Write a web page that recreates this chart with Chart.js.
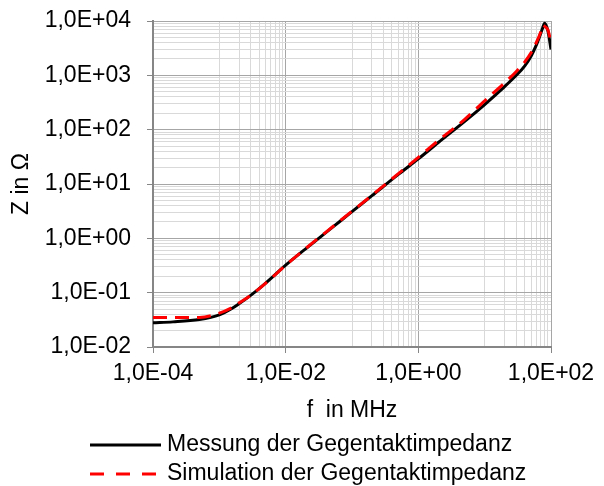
<!DOCTYPE html>
<html>
<head>
<meta charset="utf-8">
<title>Gegentaktimpedanz</title>
<script src="https://cdn.jsdelivr.net/npm/chart.js@4.4.0/dist/chart.umd.min.js"></script>
<style>
  html, body { margin: 0; padding: 0; background: #ffffff; }
  #wrap { width: 604px; height: 486px; }
</style>
</head>
<body>
<div id="wrap"><canvas id="zChart" width="604" height="486"></canvas></div>
<script>
// ---------- data (f in MHz, Z in Ohm) ----------
const freq = [0.0001, 0.0002, 0.0005, 0.001, 0.0015, 0.002, 0.003, 0.005, 0.01, 0.02,
              0.05, 0.1, 0.2, 0.5, 1, 2, 5, 10, 20, 30, 40, 50, 60, 70, 75, 80, 90, 100];
const zMessung = [0.028, 0.029, 0.032, 0.039, 0.050, 0.063, 0.090, 0.15, 0.32, 0.64,
                  1.57, 3.1, 6.1, 15, 29, 58, 142, 290, 620, 1000, 1480, 2250, 3600, 5900, 7500, 9100, 6500, 3000];
const zSimulation = [0.035, 0.035, 0.035, 0.042, 0.052, 0.065, 0.090, 0.15, 0.32, 0.65,
                     1.6, 3.15, 6.2, 15.5, 31, 63, 155, 340, 730, 1180, 1750, 2600, 4000, 6300, 8500, 8000, 6800, 4000];

// axis ticks
const xMajor = [1e-4, 1e-2, 1e0, 1e2];
const yMajor = [1e-2, 1e-1, 1e0, 1e1, 1e2, 1e3, 1e4];

const FONT = "'Liberation Sans', Arial, sans-serif";

// "1,0E+04" style like Excel (German)
function sci(v) {
  const e = Math.round(Math.log10(v));
  return '1,0E' + (e < 0 ? '-' : '+') + String(Math.abs(e)).padStart(2, '0');
}

// x grid: major every 2 decades, minor lines 1..9 x 10^(odd)
function xTickList() {
  const list = xMajor.map(v => ({ value: v, major: true }));
  for (let e = -3; e <= 1; e += 2) {
    for (let k = 1; k <= 9; k++) list.push({ value: k * Math.pow(10, e), major: false });
  }
  return list.sort((a, b) => a.value - b.value);
}

// y grid: major every decade, minor 2..9
function yTickList() {
  const list = yMajor.map(v => ({ value: v, major: true }));
  for (let e = -2; e <= 3; e++) {
    for (let k = 2; k <= 9; k++) list.push({ value: k * Math.pow(10, e), major: false });
  }
  return list.sort((a, b) => a.value - b.value);
}

const gridColor = ctx => (ctx.tick && ctx.tick.major) ? '#a6a6a6' : '#d9d9d9';
const tickMarkColor = ctx => (ctx.tick && ctx.tick.major) ? '#868686' : 'rgba(0,0,0,0)';

// legend below the axis title, entries left aligned like in Excel
const legendBelow = {
  id: 'legendBelow',
  afterDraw(chart) {
    const ctx = chart.ctx;
    const rows = [445, 474];
    ctx.save();
    chart.data.datasets.forEach((ds, i) => {
      const y = rows[i];
      ctx.beginPath();
      ctx.strokeStyle = ds.borderColor;
      ctx.lineWidth = 3;
      ctx.setLineDash(ds.borderDash && ds.borderDash.length ? [14, 12] : []);
      ctx.moveTo(90, y);
      ctx.lineTo(161, y);
      ctx.stroke();
      ctx.setLineDash([]);
      ctx.fillStyle = '#000';
      ctx.font = '23px ' + FONT;
      ctx.textAlign = 'left';
      ctx.textBaseline = 'middle';
      ctx.fillText(ds.label, 167, y);
    });
    ctx.restore();
  }
};

const ctx = document.getElementById('zChart').getContext('2d');
new Chart(ctx, {
  type: 'scatter',
  data: {
    datasets: [
      {
        label: 'Messung der Gegentaktimpedanz',
        data: freq.map((f, i) => ({ x: f, y: zMessung[i] })),
        showLine: true,
        borderColor: '#000000',
        borderWidth: 3,
        pointRadius: 0,
        cubicInterpolationMode: 'monotone',
        order: 1
      },
      {
        label: 'Simulation der Gegentaktimpedanz',
        data: freq.map((f, i) => ({ x: f, y: zSimulation[i] })),
        showLine: true,
        borderColor: '#ff0000',
        borderWidth: 3,
        borderDash: [14, 8],
        pointRadius: 0,
        cubicInterpolationMode: 'monotone',
        order: 0
      }
    ]
  },
  options: {
    responsive: false,
    animation: false,
    devicePixelRatio: 1,
    layout: { padding: { left: 0, right: 53, top: 21, bottom: 62 } },
    plugins: {
      legend: { display: false },
      tooltip: { enabled: false }
    },
    scales: {
      x: {
        type: 'logarithmic',
        position: 'bottom',
        min: 1e-4,
        max: 1e2,
        afterBuildTicks: s => { s.ticks = xTickList(); },
        afterFit: s => { s.height = 77; },
        ticks: {
          autoSkip: false,
          maxRotation: 0,
          padding: 7,
          color: '#000',
          font: { family: FONT, size: 23 },
          callback: (v, i, ticks) => ticks[i].major ? sci(v) : ''
        },
        grid: { color: gridColor, tickColor: tickMarkColor, tickLength: 6, lineWidth: 1 },
        border: { color: '#868686', width: 2 },
        title: {
          display: true,
          text: 'f  in MHz',
          color: '#000',
          font: { family: FONT, size: 23 },
          padding: { top: 0, bottom: 0 }
        }
      },
      y: {
        type: 'logarithmic',
        position: 'left',
        min: 1e-2,
        max: 1e4,
        afterBuildTicks: s => { s.ticks = yTickList(); },
        afterFit: s => {
          s.width = 153;
          // keep the plot top at the layout padding, not label height + padding
          s.paddingTop = 0;
          s.paddingBottom = 0;
        },
        ticks: {
          autoSkip: false,
          padding: 16,
          color: '#000',
          font: { family: FONT, size: 23 },
          callback: (v, i, ticks) => ticks[i].major ? sci(v) : ''
        },
        grid: { color: gridColor, tickColor: tickMarkColor, tickLength: 6, lineWidth: 1 },
        border: { color: '#868686', width: 2 },
        title: {
          display: true,
          text: 'Z in Ω',
          color: '#000',
          font: { family: FONT, size: 23 },
          padding: { top: 8, bottom: 0 }
        }
      }
    }
  },
  plugins: [legendBelow]
});
</script>
</body>
</html>
